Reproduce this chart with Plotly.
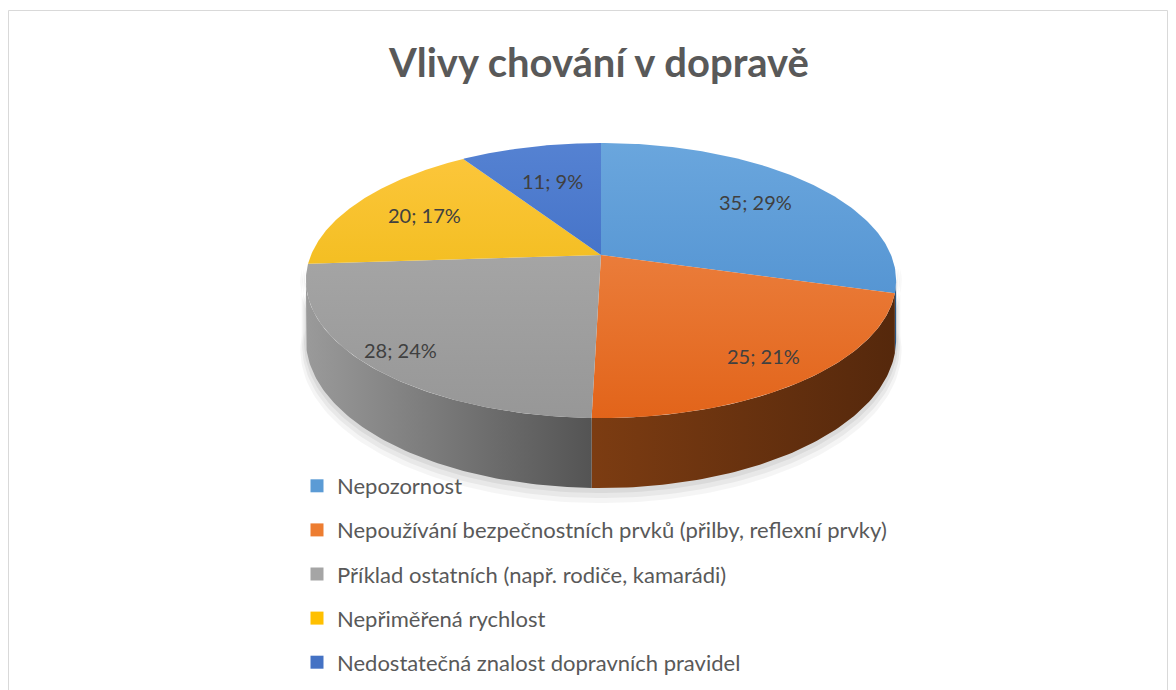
import numpy as np
import plotly.graph_objects as go

# ---------------- data ----------------
categories = [
    "Nepozornost",
    "Nepoužívání bezpečnostních prvků (přilby, reflexní prvky)",
    "Příklad ostatních (např. rodiče, kamarádi)",
    "Nepřiměřená rychlost",
    "Nedostatečná znalost dopravních pravidel",
]
values = [35, 25, 28, 20, 11]
title_text = "Vlivy chování v dopravě"

# ---------------- style ----------------
top_colors = [("#6AA6DD", "#4588CB"), ("#F08D50", "#E2641A"), ("#AEAEAE", "#979797"),
              ("#FDC73E", "#E8B400"), ("#5582D2", "#3160BC")]
side_colors = [("#2F5F8F", "#264E78"), ("#7C3C12", "#55280C"), ("#9A9A9A", "#545454"),
               ("#A07800", "#806000"), ("#22407A", "#1C3468")]
legend_colors = ["#5B9BD5", "#ED7D31", "#A5A5A5", "#FFC000", "#4472C4"]
label_radius = [0.72, 0.83, 0.88, 0.72, 0.65]
FONT = "Lato"
TXT = "#595959"

W, Hh = 1176, 690
OFF = 8                   # page body margin
CX, CY = 601.0, 255.0     # projected pie centre (page pixels)
A, B = 290.0, 132.8       # projected radii
C = 0.1855                # perspective factor
DEPTH = 57.0              # pie thickness


def proj(u, v, depth=0.0):
    s = 1.0 / (1.0 - C * v)
    return CX + A * u * s, CY + B * v * s + depth * s


total = float(sum(values))
fracs = [v / total for v in values]
starts = [-90.0 + 360.0 * sum(fracs[:i]) for i in range(len(values))]
ends = [s + 360.0 * f for s, f in zip(starts, fracs)]

fig = go.Figure()

sil0 = np.degrees(np.arcsin(C))
sil1 = 180.0 - sil0

# soft shadow
for k, alpha in enumerate([0.04, 0.05, 0.06]):
    th = np.radians(np.linspace(sil0 - 5, sil1 + 5, 120))
    grow = 1.0 + 0.006 * (3 - k)
    xs, ys = [], []
    for t in th:
        x, y = proj(np.cos(t) * grow, np.sin(t) * grow, DEPTH + 3 * (3 - k))
        xs.append(x); ys.append(y)
    for t in th[::-1]:
        x, y = proj(np.cos(t) * grow, np.sin(t) * grow, 0)
        xs.append(x); ys.append(y)
    fig.add_trace(go.Scatter(x=xs, y=ys, fill="toself", mode="lines", line=dict(width=0),
                             fillcolor=f"rgba(0,0,0,{alpha})", hoverinfo="skip", showlegend=False))

# side walls
for i in range(len(values)):
    a0 = max(starts[i], sil0)
    a1 = min(ends[i], sil1)
    if a1 <= a0:
        continue
    th = np.radians(np.linspace(a0, a1, 80))
    xs, ys = [], []
    for t in th:
        x, y = proj(np.cos(t), np.sin(t), 0)
        xs.append(x); ys.append(y)
    for t in th[::-1]:
        x, y = proj(np.cos(t), np.sin(t), DEPTH)
        xs.append(x); ys.append(y)
    xs.append(xs[0]); ys.append(ys[0])
    c0, c1 = side_colors[i]
    fig.add_trace(go.Scatter(
        x=xs, y=ys, fill="toself", mode="lines", line=dict(width=0),
        fillgradient=dict(type="horizontal", colorscale=[[0, c0], [1, c1]],
                          start=min(xs), stop=max(xs)),
        hoverinfo="skip", showlegend=False))

# top faces
for i in range(len(values)):
    th = np.radians(np.linspace(starts[i], ends[i], 120))
    xs, ys = [CX], [CY]
    for t in th:
        x, y = proj(np.cos(t), np.sin(t), 0)
        xs.append(x); ys.append(y)
    xs.append(CX); ys.append(CY)
    c0, c1 = top_colors[i]
    fig.add_trace(go.Scatter(
        x=xs, y=ys, fill="toself", mode="lines", line=dict(width=0),
        fillgradient=dict(type="vertical", colorscale=[[0, c0], [1, c1]],
                          start=proj(0, -1)[1], stop=proj(0, 1)[1]),
        name=categories[i], hoverinfo="skip", showlegend=False))

# data labels
for i in range(len(values)):
    mid = np.radians((starts[i] + ends[i]) / 2)
    r = label_radius[i]
    x, y = proj(r * np.cos(mid), r * np.sin(mid), 0)
    fig.add_annotation(x=x, y=y, xref="x", yref="y", showarrow=False,
                       text=f"{values[i]}; {round(fracs[i] * 100)}%",
                       font=dict(family=FONT, size=20, color="#404040"))

# legend
for i in range(len(values)):
    fig.add_trace(go.Scatter(x=[None], y=[None], mode="markers", name=categories[i],
                             legendgroup=f"g{i}",
                             marker=dict(symbol="square", size=13, color=legend_colors[i])))

fig.add_annotation(x=598, y=62, xref="x", yref="y", showarrow=False, text=f"<b>{title_text}</b>",
                   font=dict(family=FONT, size=40, color=TXT))

fig.add_shape(type="rect", xref="x", yref="y", x0=8.5, x1=1167.5, y0=10.5, y1=720,
              line=dict(color="#D9D9D9", width=1), fillcolor="rgba(0,0,0,0)", layer="below")

fig.update_layout(
    width=W, height=Hh,
    margin=dict(l=0, r=0, t=0, b=0),
    paper_bgcolor="white", plot_bgcolor="white",
    xaxis=dict(range=[OFF, W + OFF], visible=False, fixedrange=True),
    yaxis=dict(range=[Hh + OFF, OFF], visible=False, fixedrange=True),
    showlegend=True,
    legend=dict(x=(297 - OFF) / W, y=1 - (465 - OFF) / Hh, xanchor="left", yanchor="top",
                font=dict(family=FONT, size=22, color=TXT),
                tracegroupgap=12.5, itemwidth=30, bgcolor="rgba(0,0,0,0)"),
)

fig.write_html("out.html")
